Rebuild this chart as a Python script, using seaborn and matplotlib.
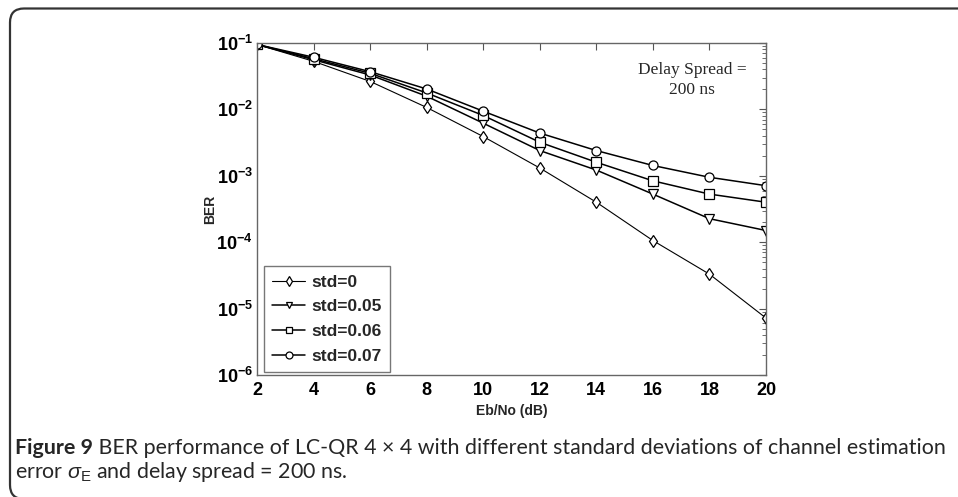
import numpy as np
import pandas as pd
import seaborn as sns
import matplotlib.pyplot as plt
from matplotlib.patches import FancyBboxPatch
from matplotlib.ticker import FixedLocator, FuncFormatter, LogLocator, NullFormatter

# ----------------------
# Data
# ----------------------
snr_db = [2, 4, 6, 8, 10, 12, 14, 16, 18, 20]
ber_std_0 = [0.095, 0.053, 0.0264, 0.0107, 0.0039, 0.00131, 0.00040, 0.000106, 3.3e-5, 7.2e-6]
ber_std_005 = [0.095, 0.056, 0.033, 0.0158, 0.0062, 0.0024, 0.00122, 0.00053, 0.000226, 0.000150]
ber_std_006 = [0.095, 0.058, 0.035, 0.0177, 0.0081, 0.0032, 0.0016, 0.00084, 0.00053, 0.000400]
ber_std_007 = [0.095, 0.061, 0.037, 0.0203, 0.0094, 0.0044, 0.0024, 0.00143, 0.00095, 0.00071]
series_labels = ['std=0', 'std=0.05', 'std=0.06', 'std=0.07']
y_ticks = [1e-6, 1e-5, 1e-4, 1e-3, 1e-2, 1e-1]

df = pd.concat([
    pd.DataFrame({'snr': snr_db, 'ber': vals, 'std': lab})
    for lab, vals in zip(series_labels, [ber_std_0, ber_std_005, ber_std_006, ber_std_007])
], ignore_index=True)

# ----------------------
# Style
# ----------------------
sns.set_style('white')
plt.rcParams['font.family'] = ['Liberation Sans', 'DejaVu Sans']
plt.rcParams['mathtext.fontset'] = 'custom'
plt.rcParams['mathtext.rm'] = 'Liberation Sans'
plt.rcParams['mathtext.bf'] = 'Liberation Sans:bold'
plt.rcParams['mathtext.it'] = 'Liberation Sans:italic'

fig = plt.figure(figsize=(9.58, 4.97), dpi=100)
ax = fig.add_axes([257 / 958, 1 - 375 / 497, 509 / 958, 332 / 497])

sns.lineplot(
    data=df, x='snr', y='ber', hue='std', style='std',
    hue_order=series_labels, style_order=series_labels,
    palette=['black'] * 4, markers=['d', 'v', 's', 'o'], dashes=False,
    markersize=6.5, markerfacecolor='white', markeredgecolor='black',
    markeredgewidth=0.9, linewidth=1.1, errorbar=None, legend=False, ax=ax,
)
ax.lines[0].set_linewidth(0.8)

ax.set_yscale('log')
ax.set_xlim(2, 20)
ax.set_ylim(1e-6, 1e-1)
ax.xaxis.set_major_locator(FixedLocator(snr_db))
ax.yaxis.set_major_locator(FixedLocator(y_ticks))
ax.yaxis.set_minor_locator(LogLocator(base=10, subs=np.arange(2, 10)))
ax.yaxis.set_minor_formatter(NullFormatter())
ax.yaxis.set_major_formatter(FuncFormatter(lambda v, p: r'$\mathbf{10^{%d}}$' % round(np.log10(v))))
ax.tick_params(axis='both', which='both', direction='in', top=True, right=True,
               colors='#555555', labelcolor='black')
ax.tick_params(axis='both', which='major', length=5, width=0.8)
ax.tick_params(axis='x', labelsize=13, pad=5)
ax.tick_params(axis='y', labelsize=13, pad=3)
ax.tick_params(axis='y', which='minor', length=3, width=0.6)
for lab in ax.get_xticklabels():
    lab.set_fontweight('bold')
for sp in ax.spines.values():
    sp.set_color('#666666')
    sp.set_linewidth(1.0)

ax.set_xlabel('Eb/No (dB)', fontsize=10, fontweight='bold', labelpad=4)
ax.set_ylabel('BER', fontsize=10, fontweight='bold')
ax.yaxis.set_label_coords(-0.079, 0.5)

leg = ax.legend(handles=ax.lines[:4], labels=series_labels, loc='lower left',
                bbox_to_anchor=(0.008, 0.0), borderaxespad=0.15, fancybox=False,
                handlelength=1.9, handletextpad=0.35, labelspacing=0.55,
                borderpad=0.5, prop={'weight': 'bold', 'size': 12.5})
leg.get_frame().set_edgecolor('#555555')
leg.get_frame().set_linewidth(1.0)
for h in leg.legend_handles:
    h.set_markersize(5)

ax.text(692, 497 - 80, 'Delay Spread =\n200 ns', transform=None, ha='center', va='center',
        multialignment='center', fontsize=12.5, family='Liberation Serif',
        linespacing=1.3)

# ----------------------
# Caption and frame
# ----------------------
cap_size = 15.4
t1 = fig.text(15 / 958, 1 - 458 / 497, 'Figure 9', fontsize=cap_size, fontweight='bold',
              family='Lato', va='bottom', ha='left')
fig.add_artist(plt.Annotation(
    ' BER performance of LC-QR 4 × 4 with different standard deviations of channel estimation',
    xy=(1, 0), xycoords=t1, fontsize=cap_size, family='Lato', va='bottom', ha='left'))
fig.text(15 / 958, 1 - 484 / 497, r'error $\sigma_{\mathrm{E}}$ and delay spread = 200 ns.',
         fontsize=cap_size, family='Lato', va='bottom', ha='left')

# rounded frame, open to the right and bottom (runs off the figure)
frame = FancyBboxPatch((0.10, -0.02), 11.0, 4.885 + 0.02,
                       boxstyle='round,pad=0,rounding_size=0.14',
                       transform=fig.dpi_scale_trans, fill=False,
                       edgecolor='#333333', linewidth=1.6)
frame.set_clip_box(fig.bbox)
frame.set_clip_on(True)
fig.add_artist(frame)

plt.savefig('out.png', dpi=100, bbox_inches=None)
plt.close()
